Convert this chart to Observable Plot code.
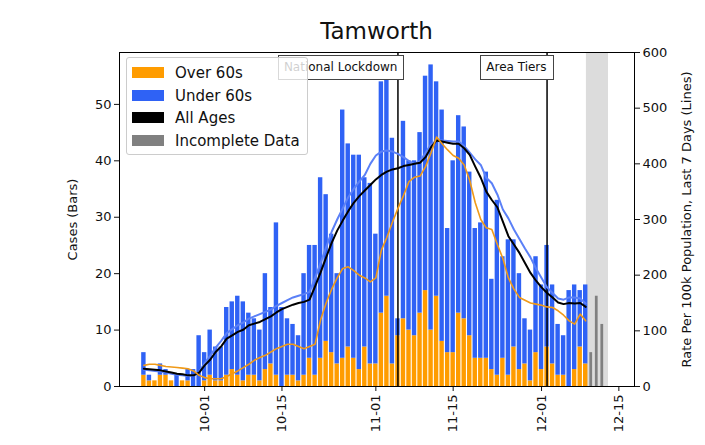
<!DOCTYPE html>
<html>
<head>
<meta charset="utf-8">
<script src="https://cdn.jsdelivr.net/npm/d3@7"></script>
<script src="https://cdn.jsdelivr.net/npm/@observablehq/plot@0.6"></script>
<style>
  html, body { margin: 0; padding: 0; background: #fff; }
  #wrap { position: relative; width: 705px; height: 445px; font-family: "DejaVu Sans", sans-serif; color: #111; }
  #title { position: absolute; left: 119px; width: 515px; top: 17px; text-align: center; font-size: 23px; line-height: 28px; }
  .legend { position: absolute; left: 126px; top: 57px; width: 182px; height: 98px; box-sizing: border-box;
            border: 1px solid #cccccc; border-radius: 3px; background: rgba(255,255,255,0.8); }
  .item { position: absolute; left: 0; height: 20px; font-size: 15px; line-height: 20px; white-space: nowrap; }
  .patch { position: absolute; left: 5px; top: 4px; width: 32px; height: 11px; }
  .lab { position: absolute; left: 48px; top: 0; }
  .note { position: absolute; top: 55px; height: 25px; box-sizing: border-box; border: 1px solid #444; background: #fff;
          font-size: 12px; line-height: 23px; padding: 0 6px 0 5px; white-space: nowrap; text-align: right; }
</style>
</head>
<body>
<div id="wrap"></div>
<script>
// ---- data ----
const firstDay = "2020-09-20";   // first bar, then one bar per day
const over60 = [2,1,1,2,2,1,0,1,1,0,0,
  1,2,1,1,2,3,2,1,2,2,
  1,3,4,2,0,2,2,1,2,5,
  2,5,8,6,4,5,7,5,3,7,
  4,4,13,16,4,9,12,10,9,13,
  17,10,16,8,6,6,13,12,9,5,
  5,5,3,2,5,2,7,3,4,1,
  6,3,7,4,2,2,0,3,7,4];
const under60 = [4,1,0,2,1,0,2,0,2,3,9,
  5,8,6,6,12,12,14,14,11,10,
  9,17,10,27,14,10,9,8,18,20,
  23,32,26,21,16,44,36,36,38,30,
  32,23,41,39,40,3,35,30,31,32,
  38,47,38,41,22,34,35,34,29,23,
  24,33,16,31,18,24,19,17,8,9,
  17,15,18,14,9,7,17,15,10,14];
const rateAll = [32,31,30,29,27,25,23,22,20,20,25,
  38,48,62,72,86,92,98,102,110,113,
  116,121,126,133,139,143,147,150,152,156,
  180,205,232,258,280,298,315,330,342,352,
  362,372,380,386,390,392,396,398,400,402,
  412,430,442,440,438,436,436,428,416,395,
  375,350,335,322,296,270,255,240,222,204,
  190,178,168,160,151,148,150,149,150,143];
const rateUnder = [30,29,28,27,25,23,21,20,19,20,26,
  42,55,70,82,96,103,110,115,122,126,
  130,134,138,145,150,155,160,163,166,170,
  195,222,250,278,300,320,340,355,368,380,
  400,415,422,424,422,418,412,405,400,405,
  420,435,442,442,441,440,440,432,420,408,
  398,375,365,345,318,302,282,265,248,232,
  212,195,178,168,158,156,160,160,158,149];
const rateOver = [38,40,40,38,36,35,34,33,32,28,20,
  16,14,14,14,18,23,28,34,40,47,
  52,56,62,68,72,76,76,72,68,72,
  76,120,150,175,195,212,215,208,200,195,
  188,195,245,268,295,320,343,368,376,378,
  395,420,448,436,425,415,410,398,370,330,
  300,285,282,255,230,195,175,160,155,150,
  148,146,143,142,136,128,118,112,130,118];
const incompleteDays = ["2020-12-10","2020-12-11","2020-12-12"];
const incompleteCases = [6,16,11];
const incompleteSpan = ["2020-12-09T03:00", "2020-12-13T03:00"];
const eventDates = ["2020-11-05","2020-12-02"];
const eventLabels = ["National Lockdown","Area Tiers"];
const xTickLabels = ["2020-10-01","2020-10-15","2020-11-01","2020-11-15","2020-12-01","2020-12-15"];
const leftTicks = [0,10,20,30,40,50];
const rightTicks = [0,100,200,300,400,500,600];
const xDomain = ["2020-09-15T14:00","2020-12-17T20:00"];
const yMax = 59.2, rateMax = 600;

// ---- styling ----
const cOver = "#ff9c00", cUnder = "#2f62f5", cLineUnder = "#5b80f7", cLineOver = "#f09a18", cGrey = "#808080";

const day = 864e5;
const parse = s => new Date(s + (s.length > 10 ? ":00Z" : "T00:00:00Z"));
const d0 = parse(firstDay);
const rows = over60.map((o, i) => ({
  date: new Date(+d0 + i * day), over: o, under: under60[i],
  rAll: rateAll[i], rUnder: rateUnder[i], rOver: rateOver[i]
}));
const inc = incompleteDays.map((s, i) => ({date: parse(s), cases: incompleteCases[i]}));
const events = eventDates.map((s, i) => ({date: parse(s), label: eventLabels[i]}));
const k = yMax / rateMax;
const half = 0.4 * day;

const plot = Plot.plot({
  width: 705, height: 445,
  marginLeft: 119, marginRight: 71, marginTop: 52, marginBottom: 59,
  style: {fontFamily: "DejaVu Sans", fontSize: "13px", background: "white", color: "#111"},
  x: {type: "utc", domain: xDomain.map(parse)},
  y: {domain: [0, yMax]},
  marks: [
    Plot.rect([{a: parse(incompleteSpan[0]), b: parse(incompleteSpan[1])}],
      {x1: "a", x2: "b", y1: 0, y2: yMax, fill: "#dcdcdc"}),
    Plot.rectY(rows, {x1: d => new Date(+d.date - half), x2: d => new Date(+d.date + half), y1: 0, y2: "over", fill: cOver}),
    Plot.rectY(rows, {x1: d => new Date(+d.date - half), x2: d => new Date(+d.date + half), y1: "over", y2: d => d.over + d.under, fill: cUnder}),
    Plot.rectY(inc, {x1: d => new Date(+d.date - 0.25 * day), x2: d => new Date(+d.date + 0.25 * day), y1: 0, y2: "cases", fill: cGrey}),
    Plot.ruleX(events, {x: "date", stroke: "black", strokeWidth: 1.5}),
    Plot.line(rows, {x: "date", y: d => d.rUnder * k, stroke: cLineUnder, strokeWidth: 2}),
    Plot.line(rows, {x: "date", y: d => d.rAll * k, stroke: "black", strokeWidth: 2}),
    Plot.line(rows, {x: "date", y: d => d.rOver * k, stroke: cLineOver, strokeWidth: 1.6}),
    Plot.axisY({ticks: leftTicks, tickSize: 5, tickPadding: 3, label: "Cases (Bars)", labelAnchor: "center", labelArrow: "none", labelOffset: 52}),
    Plot.axisY({anchor: "right", ticks: rightTicks.map(v => v * k), tickFormat: v => String(Math.round(v / k)), tickSize: 5, tickPadding: 3,
      label: "Rate Per 100k Population, Last 7 Days (Lines)", labelAnchor: "center", labelArrow: "none", labelOffset: 56}),
    Plot.axisX({ticks: xTickLabels.map(parse), tickFormat: d3.utcFormat("%m-%d"), tickRotate: -90, tickSize: 5, tickPadding: 3, label: null}),
    Plot.frame({stroke: "black", strokeWidth: 1})
  ]
});

const wrap = document.getElementById("wrap");
wrap.appendChild(plot);

const title = document.createElement("div");
title.id = "title";
title.textContent = "Tamworth";
wrap.appendChild(title);

// event annotation boxes, placed through the plot's x scale
const xs = plot.scale("x");
events.forEach(e => {
  const px = xs.apply(e.date);
  const n = document.createElement("div");
  n.className = "note";
  n.textContent = e.label;
  n.style.right = (705 - px - 7) + "px";
  wrap.appendChild(n);
});

// legend
const legendItems = [["Over 60s", cOver], ["Under 60s", cUnder], ["All Ages", "#000"], ["Incomplete Data", cGrey]];
const lg = document.createElement("div");
lg.className = "legend";
legendItems.forEach(([t, c], i) => {
  const it = document.createElement("div");
  it.className = "item";
  it.style.top = (5 + i * 22.6) + "px";
  it.innerHTML = `<span class="patch" style="background:${c}"></span><span class="lab"></span>`;
  it.querySelector(".lab").textContent = t;
  lg.appendChild(it);
});
wrap.appendChild(lg);
</script>
</body>
</html>
